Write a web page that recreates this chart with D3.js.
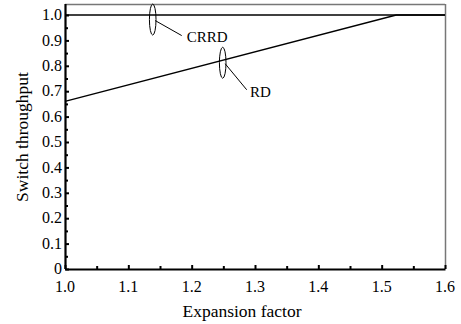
<!DOCTYPE html>
<html>
<head>
<meta charset="utf-8">
<script src="https://cdn.jsdelivr.net/npm/d3@7"></script>
<style>
  body { margin: 0; background: #fff; }
</style>
</head>
<body>
<svg id="chart" width="461" height="324"></svg>
<script>
// values
const xTicks = [1.0, 1.1, 1.2, 1.3, 1.4, 1.5, 1.6];
const yTicks = [0, 0.1, 0.2, 0.3, 0.4, 0.5, 0.6, 0.7, 0.8, 0.9, 1.0];
const crrd = [[1.0, 1.0], [1.6, 1.0]];
const rd = [[1.0, 0.66], [1.523, 1.0], [1.6, 1.0]];
// series labels: [name, ellipse centre x, ellipse centre y]
const labels = [["CRRD", 1.1385, 0.982], ["RD", 1.249, 0.812]];

const FONT = "Liberation Serif";
const svg = d3.select("#chart").attr("font-family", FONT);
const plotL = 65, plotR = 445, plotT = 4, plotB = 269;

const x = d3.scaleLinear().domain([1.0, 1.6]).range([plotL, plotR]);
const y = d3.scaleLinear().domain([0, 1.0]).range([plotB, 15]);

// frame top / right in grey
svg.append("line")
    .attr("x1", plotL).attr("x2", plotR).attr("y1", plotT + 0.5).attr("y2", plotT + 0.5)
    .attr("stroke", "#777").attr("stroke-width", 1.5);
svg.append("line")
    .attr("x1", plotR + 0.5).attr("x2", plotR + 0.5).attr("y1", plotT).attr("y2", plotB)
    .attr("stroke", "#777").attr("stroke-width", 1.5);

// minor ticks (every 0.05), pointing inwards
const xMinor = d3.range(1.05, 1.6, 0.1);
const yMinor = d3.range(0.05, 1.0, 0.1);

const xAxis = svg.append("g")
    .attr("transform", `translate(0,${plotB})`)
    .call(d3.axisTop(x).tickValues(xTicks).tickSizeInner(4).tickSizeOuter(0).tickFormat(""));
xAxis.select(".domain").attr("stroke-width", 2.2);
xAxis.selectAll(".tick line").attr("stroke-width", 2);
svg.append("g")
    .attr("transform", `translate(0,${plotB})`)
    .call(d3.axisTop(x).tickValues(xMinor).tickSize(3).tickFormat(""))
    .call(g => g.select(".domain").remove())
    .selectAll(".tick line").attr("stroke-width", 2);

const yAxis = svg.append("g")
    .attr("transform", `translate(${plotL},0)`)
    .call(d3.axisRight(y).tickValues(yTicks).tickSizeInner(4).tickSizeOuter(0).tickFormat(""));
yAxis.select(".domain").attr("d", `M0.5,${plotT}V${plotB}`).attr("stroke-width", 2.2);
yAxis.selectAll(".tick line").attr("stroke-width", 2);
svg.append("g")
    .attr("transform", `translate(${plotL},0)`)
    .call(d3.axisRight(y).tickValues(yMinor).tickSize(3).tickFormat(""))
    .call(g => g.select(".domain").remove())
    .selectAll(".tick line").attr("stroke-width", 2);

// tick labels
svg.append("g").selectAll("text")
    .data(xTicks).join("text")
    .attr("font-family", FONT)
    .attr("x", d => x(d)).attr("y", 291.5)
    .attr("text-anchor", "middle").attr("font-size", 16)
    .text(d => d.toFixed(1));
svg.append("g").selectAll("text")
    .data(yTicks).join("text")
    .attr("font-family", FONT)
    .attr("x", 62).attr("y", d => y(d)).attr("dy", "0.33em")
    .attr("text-anchor", "end").attr("font-size", 16)
    .text(d => d === 0 ? "0" : d.toFixed(1));

// axis titles
svg.append("text")
    .attr("font-family", FONT)
    .attr("x", 242).attr("y", 316.5)
    .attr("text-anchor", "middle").attr("font-size", 17.5)
    .text("Expansion factor");
svg.append("text")
    .attr("font-family", FONT)
    .attr("transform", "translate(28,137) rotate(-90)")
    .attr("text-anchor", "middle").attr("font-size", 17.5)
    .text("Switch throughput");

// series
const line = d3.line().x(d => x(d[0])).y(d => y(d[1]));
[crrd, rd].forEach(s => {
    svg.append("path")
        .attr("d", line(s))
        .attr("fill", "none").attr("stroke", "#000").attr("stroke-width", 1.4);
});

// ellipse markers with leader lines
labels.forEach(([name, lx, ly]) => {
    const cx = x(lx), cy = y(ly);
    svg.append("ellipse")
        .attr("cx", cx).attr("cy", cy).attr("rx", 3.3).attr("ry", 15.5)
        .attr("fill", "none").attr("stroke", "#000").attr("stroke-width", 1);
    svg.append("line")
        .attr("x1", cx + 2.5).attr("y1", cy + 1)
        .attr("x2", cx + (name === "RD" ? 24 : 29)).attr("y2", cy + (name === "RD" ? 27 : 16))
        .attr("stroke", "#000").attr("stroke-width", 1);
    svg.append("text")
        .attr("font-family", FONT)
        .attr("x", cx + (name === "RD" ? 27.3 : 34)).attr("y", cy + (name === "RD" ? 34 : 22.5))
        .attr("font-size", 15)
        .text(name);
});
</script>
</body>
</html>
